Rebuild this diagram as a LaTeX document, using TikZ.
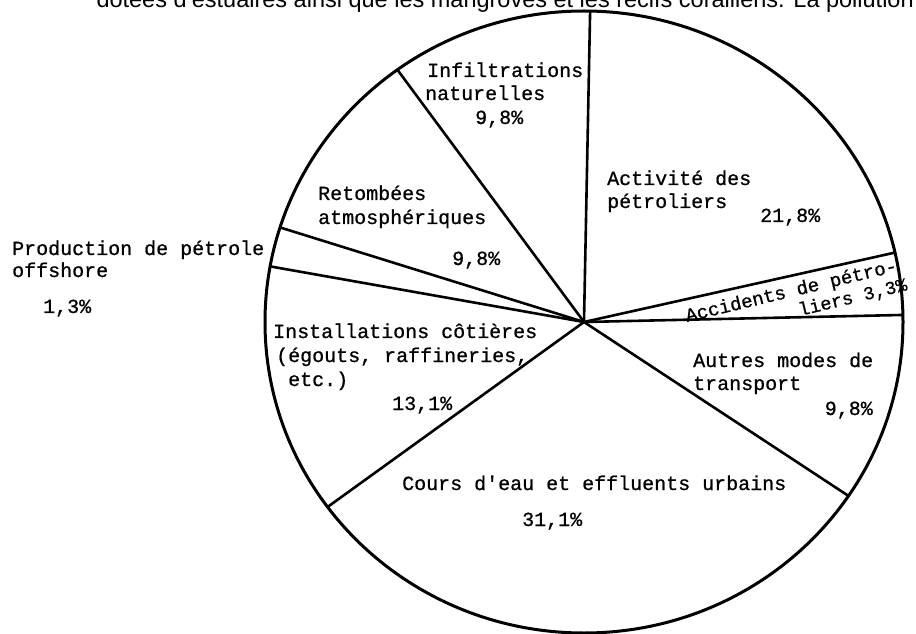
\documentclass[tikz,border=0pt]{standalone}
\usepackage{fontspec}
\setmainfont{Liberation Sans}
\newfontfamily\typewriter{Liberation Mono}[FakeBold=0.8]
\usetikzlibrary{calc}
\tikzset{lbl/.style={anchor=base west,inner sep=0pt,font=\typewriter\fontsize{20}{24}\selectfont},
  acclbl/.style={lbl,rotate=13.5,font=\typewriter\fontsize{19}{22}\selectfont},
  rim/.style={line width=3pt},
  spoke/.style={line width=2.6pt}}
\begin{document}
\begin{tikzpicture}[x=1pt,y=1pt,line cap=round,line join=round]
\useasboundingbox (0,0) rectangle (916,633);
% cut-off line of the page above
\node[anchor=base east,inner sep=0pt,font=\fontsize{23.5}{26}\selectfont] (toptext) at (914,625)
  {dotées d'estuaires ainsi que les mangroves et les récifs coralliens. La pollution};
% pie
\coordinate (c) at (584,311);
\draw[rim] (c) ellipse (319 and 311);
\foreach \a [count=\i] in {88.9,125.8,162.3,169.7,216.5,326,1.3,12.9}
  \coordinate (r\i) at ($(c)+(\a:319 and 311)$);
\foreach \i in {1,...,8}
  \draw[spoke] (c) -- (r\i);
% labels
\node[lbl] (inf1) at (427,556) {Infiltrations};
\node[lbl] (inf2) at (425,533) {naturelles};
\node[lbl] (infp) at (475,509) {9,8\%};
\node[lbl] (ret1) at (318,433) {Retombées};
\node[lbl] (ret2) at (318,409) {atmosphériques};
\node[lbl] (retp) at (452,368) {9,8\%};
\node[lbl] (pro1) at (12,378) {Production de pétrole};
\node[lbl] (pro2) at (12,356) {offshore};
\node[lbl] (prop) at (43,320) {1,3\%};
\node[lbl] (act1) at (607,448) {Activité des};
\node[lbl] (act2) at (607,425) {pétroliers};
\node[lbl] (actp) at (760,411) {21,8\%};
\node[acclbl] (acc1) at (687,311) {Accidents de pétro-};
\node[acclbl,font=\typewriter\fontsize{18.5}{22}\selectfont] (acc2) at (800,317) {liers 3,3\%};
\node[lbl] (aut1) at (693,266) {Autres modes de};
\node[lbl] (aut2) at (693,243) {transport};
\node[lbl,anchor=base east] (autp) at (873,218) {9,8\%};
\node[lbl] (ins1) at (273,295) {Installations côtières};
\node[lbl] (ins2) at (276,271) {(égouts, raffineries,};
\node[lbl] (ins3) at (288,247) {etc.)};
\node[lbl] (insp) at (392,223) {13,1\%};
\node[lbl] (cou1) at (402,143) {Cours d\textquotesingle eau et effluents urbains};
\node[lbl] (coup) at (522,107) {31,1\%};
\end{tikzpicture}
\end{document}
